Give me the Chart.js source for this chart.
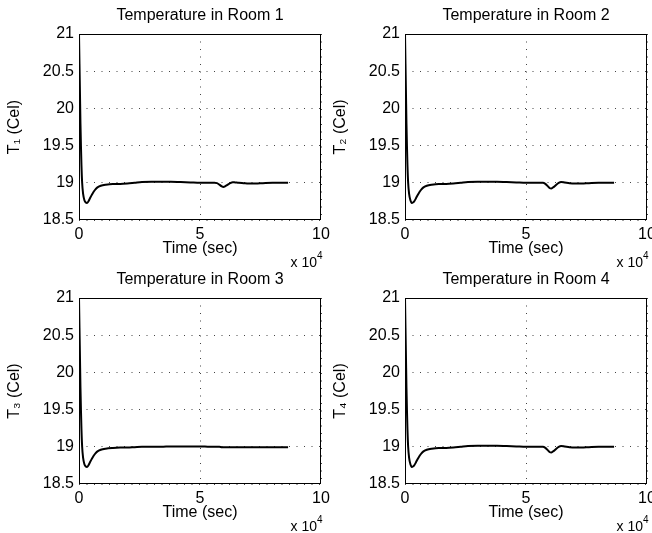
<!DOCTYPE html>
<html>
<head>
<meta charset="utf-8">
<script src="https://cdn.jsdelivr.net/npm/chart.js@4/dist/chart.umd.min.js"></script>
<style>
    body { margin: 0; background: #fff; overflow: hidden; }
    .plot { position: absolute; }
</style>
</head>
<body>
<div class="plot" style="left:0px;top:0px"><canvas id="room1" width="340" height="270"></canvas></div>
<div class="plot" style="left:326px;top:0px"><canvas id="room2" width="340" height="270"></canvas></div>
<div class="plot" style="left:0px;top:264px"><canvas id="room3" width="340" height="270"></canvas></div>
<div class="plot" style="left:326px;top:264px"><canvas id="room4" width="340" height="270"></canvas></div>
<script>
// time in seconds (axis shows x 10^4)
const timeSec = [0, 200, 400, 600, 800, 1000, 1300, 1700, 2200, 2800,
    3300, 3800, 4500, 5500, 6500, 7500, 9000, 11000, 14000, 17000,
    20000, 23000, 26000, 30000, 34000, 38000, 42000, 46000, 50000, 54000,
    56000, 57000, 58000, 59000, 59700, 60500, 61500, 62500, 63500, 64500,
    66000, 68000, 70000, 73000, 76000, 80000, 84000, 86400]

const room1 = [21.0, 20.6, 20.2, 19.8, 19.5, 19.25, 19.0, 18.85, 18.77, 18.735,
    18.73, 18.745, 18.79, 18.85, 18.9, 18.935, 18.96, 18.975, 18.985, 18.985,
    18.99, 19.0, 19.01, 19.015, 19.015, 19.015, 19.01, 19.005, 19.0, 19.0,
    19.0, 18.995, 18.975, 18.952, 18.945, 18.955, 18.975, 18.995, 19.008, 19.005,
    19.0, 18.995, 18.99, 18.99, 18.995, 19.0, 19.0, 19.0]

const room2 = [21.0, 20.6, 20.2, 19.8, 19.5, 19.25, 19.0, 18.85, 18.77, 18.73,
    18.735, 18.75, 18.79, 18.85, 18.9, 18.935, 18.96, 18.975, 18.985, 18.985,
    18.99, 19.0, 19.01, 19.015, 19.015, 19.015, 19.01, 19.005, 19.0, 19.0,
    19.0, 19.0, 18.985, 18.955, 18.93, 18.925, 18.945, 18.975, 19.0, 19.012,
    19.005, 18.995, 18.99, 18.99, 18.995, 19.0, 19.0, 19.0]

const room3 = [21.0, 20.6, 20.2, 19.8, 19.5, 19.25, 19.0, 18.85, 18.77, 18.735,
    18.73, 18.745, 18.79, 18.85, 18.9, 18.935, 18.96, 18.975, 18.985, 18.99,
    18.99, 18.995, 19.0, 19.0, 19.0, 19.005, 19.005, 19.005, 19.005, 19.0,
    19.0, 19.0, 19.0, 18.995, 18.995, 18.995, 18.995, 18.995, 18.995, 18.995,
    18.995, 18.995, 18.995, 18.995, 18.995, 18.995, 18.995, 18.995]

const room4 = [21.0, 20.6, 20.2, 19.8, 19.5, 19.25, 19.0, 18.85, 18.77, 18.73,
    18.735, 18.75, 18.79, 18.85, 18.9, 18.935, 18.96, 18.975, 18.985, 18.985,
    18.99, 19.0, 19.01, 19.015, 19.015, 19.015, 19.01, 19.005, 19.0, 19.0,
    19.0, 19.0, 18.985, 18.955, 18.93, 18.925, 18.945, 18.975, 19.0, 19.012,
    19.005, 18.995, 18.99, 18.99, 18.995, 19.0, 19.0, 19.0]

const yTicks = [18.5, 19, 19.5, 20, 20.5, 21]
const xTicks = [0, 50000, 100000]

const fontFamily = '"Liberation Sans", Arial, Helvetica, sans-serif'
Chart.defaults.font.family = fontFamily
Chart.defaults.color = '#000'

/* box around the axes plus the "x 10^4" note */
const framePlugin = {
    id: 'frame',
    afterDatasetsDraw(chart){
        const a = chart.chartArea
        const ctx = chart.ctx
        ctx.save()
        ctx.strokeStyle = '#000'
        ctx.lineWidth = 1
        ctx.strokeRect(a.left + 0.5, a.top + 0.5, a.right - a.left - 1, a.bottom - a.top - 1)
        ctx.restore()
    },
    afterDraw(chart){
        const a = chart.chartArea
        const ctx = chart.ctx
        ctx.save()
        ctx.fillStyle = '#000'
        ctx.textBaseline = 'alphabetic'
        ctx.textAlign = 'right'
        ctx.font = '14px ' + fontFamily
        ctx.fillText('x 10', a.right - 4, a.bottom + 47)
        ctx.textAlign = 'left'
        ctx.font = '10px ' + fontFamily
        ctx.fillText('4', a.right - 4, a.bottom + 39)
        ctx.restore()
    }
}

function makeChart(id, title, yTitle, values){
    const points = timeSec.map((t, i) => ({x: t, y: values[i]}))
    new Chart(document.getElementById(id), {
        type: 'line',
        data: {
            datasets: [{
                data: points,
                borderColor: '#000',
                borderWidth: 2,
                pointRadius: 0,
                cubicInterpolationMode: 'monotone',
                fill: false
            }]
        },
        options: {
            responsive: false,
            animation: false,
            layout: { padding: { left: 0, right: 19, top: 0, bottom: 11.5 } },
            plugins: {
                legend: { display: false },
                tooltip: { enabled: false },
                title: {
                    display: true,
                    text: title,
                    fullSize: false,
                    color: '#000',
                    font: { size: 16, weight: 'normal' },
                    padding: { top: 6, bottom: 8.8 }
                }
            },
            scales: {
                x: {
                    type: 'linear',
                    min: 0,
                    max: 100000,
                    afterBuildTicks: s => { s.ticks = xTicks.map(v => ({value: v})) },
                    ticks: {
                        callback: v => String(v / 10000),
                        font: { size: 16 },
                        padding: 5,
                        maxRotation: 0
                    },
                    grid: { color: '#444', lineWidth: 1, drawTicks: false },
                    border: { display: false, dash: [1, 6.5] },
                    title: {
                        display: true,
                        text: 'Time (sec)',
                        font: { size: 16 },
                        padding: 0
                    },
                    afterFit: s => {
                        s.height = 38.5
                        s.paddingLeft = 0
                        s.paddingRight = 0
                    }
                },
                y: {
                    min: 18.5,
                    max: 21,
                    afterBuildTicks: s => { s.ticks = yTicks.map(v => ({value: v})) },
                    ticks: {
                        callback: v => String(v),
                        font: { size: 16 },
                        padding: 5
                    },
                    grid: { color: '#444', lineWidth: 1, drawTicks: false },
                    border: { display: false, dash: [1, 6.5] },
                    title: {
                        display: true,
                        text: yTitle,
                        font: { size: 16 },
                        padding: { top: 5.4, bottom: 0 }
                    },
                    afterFit: s => {
                        s.width = 79
                        s.paddingTop = 0
                        s.paddingBottom = 0
                    }
                }
            }
        },
        plugins: [framePlugin]
    })
}

makeChart('room1', 'Temperature in Room 1', 'T\u2081 (Cel)', room1)
makeChart('room2', 'Temperature in Room 2', 'T\u2082 (Cel)', room2)
makeChart('room3', 'Temperature in Room 3', 'T\u2083 (Cel)', room3)
makeChart('room4', 'Temperature in Room 4', 'T\u2084 (Cel)', room4)
</script>
</body>
</html>
